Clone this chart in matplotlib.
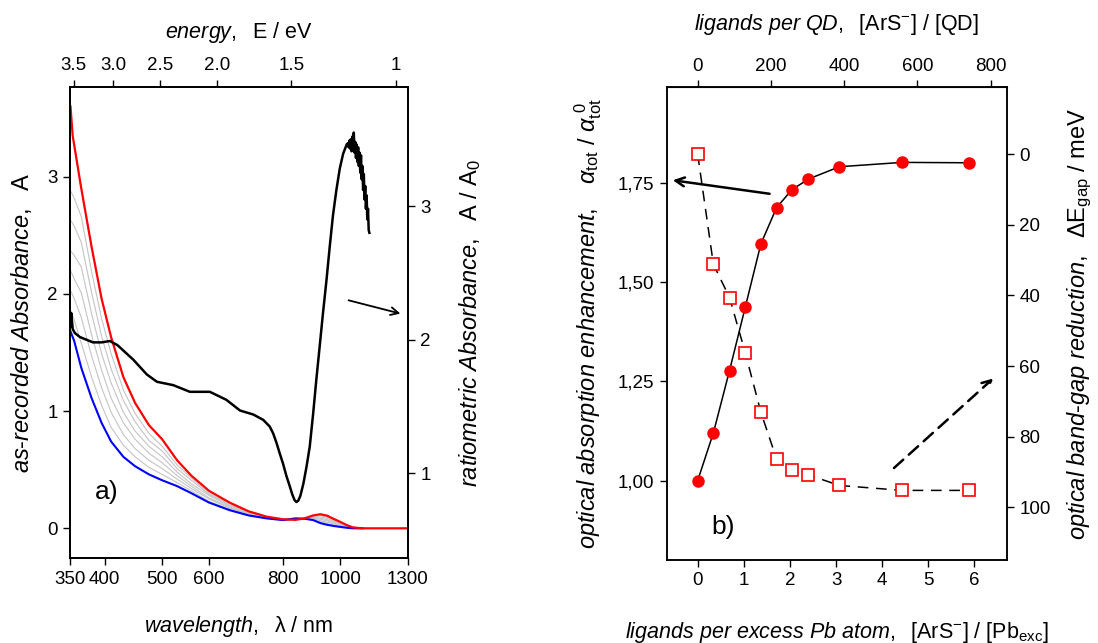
import numpy as np
import matplotlib
matplotlib.use('Agg')
import matplotlib.pyplot as plt
from matplotlib.ticker import FixedLocator, NullLocator, FixedFormatter

plt.rcParams['font.family'] = ['Liberation Sans', 'DejaVu Sans']
plt.rcParams['mathtext.fontset'] = 'custom'
plt.rcParams['mathtext.rm'] = 'Liberation Sans'
plt.rcParams['mathtext.it'] = 'Liberation Sans:italic'
plt.rcParams['mathtext.bf'] = 'Liberation Sans:bold'

# ---------------- panel a data ----------------
wl = [350, 355, 365, 380, 395, 410, 430, 450, 475, 500, 530, 560, 600, 650, 700,
      750, 800, 840, 870, 900, 925, 950, 975, 1000, 1025, 1050, 1090]
blue_A = [1.68, 1.60, 1.37, 1.11, 0.90, 0.74, 0.61, 0.53, 0.46, 0.41, 0.36, 0.30, 0.22, 0.155, 0.11,
          0.085, 0.07, 0.085, 0.082, 0.07, 0.045, 0.03, 0.02, 0.012, 0.005, 0.0, 0.0]
gray1 = [1.86, 1.78, 1.58, 1.29, 1.05, 0.86, 0.71, 0.61, 0.52, 0.46, 0.39, 0.32, 0.23, 0.164, 0.115,
         0.087, 0.071, 0.083, 0.082, 0.076, 0.056, 0.041, 0.028, 0.018, 0.008, 0.001, 0.0]
gray2 = [2.03, 1.96, 1.80, 1.47, 1.20, 0.99, 0.80, 0.68, 0.58, 0.51, 0.42, 0.34, 0.25, 0.173, 0.120,
         0.089, 0.072, 0.081, 0.083, 0.081, 0.066, 0.052, 0.037, 0.024, 0.011, 0.002, 0.0]
gray3 = [2.20, 2.13, 2.01, 1.65, 1.35, 1.11, 0.90, 0.76, 0.64, 0.56, 0.45, 0.36, 0.26, 0.182, 0.125,
         0.091, 0.073, 0.080, 0.083, 0.087, 0.077, 0.063, 0.045, 0.030, 0.015, 0.003, 0.0]
gray4 = [2.37, 2.33, 2.23, 1.83, 1.49, 1.24, 0.99, 0.83, 0.70, 0.61, 0.48, 0.38, 0.28, 0.191, 0.130,
         0.093, 0.074, 0.078, 0.084, 0.092, 0.087, 0.074, 0.054, 0.036, 0.018, 0.004, 0.0]
gray5 = [2.63, 2.58, 2.44, 2.01, 1.64, 1.36, 1.09, 0.91, 0.75, 0.66, 0.51, 0.41, 0.29, 0.201, 0.135,
         0.096, 0.075, 0.076, 0.084, 0.098, 0.098, 0.085, 0.062, 0.042, 0.021, 0.006, 0.0]
gray6 = [2.88, 2.82, 2.66, 2.19, 1.79, 1.49, 1.18, 0.98, 0.81, 0.70, 0.54, 0.43, 0.30, 0.210, 0.139,
         0.098, 0.076, 0.074, 0.085, 0.104, 0.108, 0.096, 0.070, 0.048, 0.024, 0.007, 0.0]

red_wl = [350, 353, 365, 380, 395, 410, 430, 450, 475, 500, 530, 560, 600, 650, 700,
          750, 800, 840, 870, 900, 925, 950, 975, 1000, 1025, 1050, 1090, 1300]
red_A = [3.60, 3.35, 2.90, 2.40, 1.96, 1.63, 1.29, 1.07, 0.88, 0.76, 0.58, 0.45, 0.32, 0.22, 0.145,
         0.10, 0.077, 0.072, 0.085, 0.11, 0.12, 0.108, 0.08, 0.055, 0.028, 0.008, 0.0, 0.0]

black_wl = [350, 351, 353, 356, 363, 382, 395, 408, 420, 447, 471, 490, 522, 557, 602, 642, 677,
            713, 741, 760, 770, 780, 790, 800, 811, 822, 830, 837, 843, 849, 856, 866, 877, 888,
            900, 911, 923, 935, 948, 960, 972, 985, 998, 1011, 1025,
            1030, 1033, 1036, 1039, 1042, 1045, 1048, 1051, 1054, 1057, 1060, 1063, 1066, 1069,
            1072, 1075, 1078, 1081, 1084, 1087, 1090, 1093, 1096, 1099, 1102, 1105, 1108, 1111,
            1114, 1117, 1120]
black_R = [2.10, 2.20, 2.08, 2.05, 2.02, 1.98, 1.98, 1.99, 1.96, 1.85, 1.74, 1.685, 1.66, 1.61, 1.61,
           1.55, 1.47, 1.44, 1.40, 1.35, 1.30, 1.23, 1.15, 1.075, 0.98, 0.90, 0.84, 0.80, 0.785,
           0.795, 0.83, 0.92, 1.05, 1.20, 1.45, 1.70, 1.95, 2.20, 2.45, 2.70, 2.93, 3.12, 3.28,
           3.39, 3.46,
           3.47, 3.44, 3.49, 3.43, 3.50, 3.41, 3.52, 3.42, 3.55, 3.40, 3.48, 3.36, 3.46, 3.33,
           3.44, 3.30, 3.40, 3.25, 3.38, 3.20, 3.30, 3.12, 3.24, 3.05, 3.15, 2.98, 3.08, 2.90,
           2.98, 2.82, 2.80]

wl_ticks = [350, 400, 500, 600, 800, 1000, 1300]
energy_ticks = [3.5, 3.0, 2.5, 2.0, 1.5, 1.0]
energy_labels = ['3.5', '3.0', '2.5', '2.0', '1.5', '1']

# ---------------- panel b data ----------------
ratio_Pb = [0.0, 0.34, 0.69, 1.03, 1.37, 1.71, 2.04, 2.40, 3.07, 4.43, 5.89]
alpha_rel = [1.00, 1.12, 1.277, 1.436, 1.596, 1.687, 1.732, 1.759, 1.79, 1.801, 1.80]
dEgap = [0.1, 31.2, 40.6, 56.2, 73.1, 86.3, 89.4, 90.8, 93.8, 95.2, 95.2]
ligands_per_Pb_to_QD = 126.0
qd_ticks = [0, 200, 400, 600, 800]
alpha_ticks = [1.00, 1.25, 1.50, 1.75]
alpha_labels = ['1,00', '1,25', '1,50', '1,75']
dE_ticks = [0, 20, 40, 60, 80, 100]

TFS = 13.5
LFS = 15.5
YLFS = 17

fig = plt.figure(figsize=(10.98, 6.43), dpi=100)

def style(ax):
    for s in ax.spines.values():
        s.set_linewidth(1.1)
    ax.tick_params(direction='out', length=5, width=1.0, labelsize=TFS, pad=4)

# ---------------- panel a ----------------
axA = fig.add_axes([0.0642, 0.1317, 0.3071, 0.7334])
axA.set_xscale('log')
axA.set_xlim(350, 1300)
axA.set_ylim(-0.256, 3.768)
for g in [gray1, gray2, gray3, gray4, gray5, gray6]:
    axA.plot(wl, g, color='#c4c4c4', lw=0.8)
axA.plot(wl, blue_A, color='#0000ff', lw=1.5)
axA.plot(red_wl, red_A, color='#ff0000', lw=1.6)
axA.xaxis.set_major_locator(FixedLocator(wl_ticks))
axA.xaxis.set_major_formatter(FixedFormatter([str(t) for t in wl_ticks]))
axA.xaxis.set_minor_locator(NullLocator())
axA.set_yticks([0, 1, 2, 3])
style(axA)
axA.set_xlabel(r'$\mathit{wavelength,}$  λ / nm', fontsize=LFS, labelpad=19)
axA.set_ylabel(r'$\mathit{as}$-$\mathit{recorded\ Absorbance,}$  A', fontsize=YLFS, labelpad=10)
axA.text(0.107, 0.141, 'a)', transform=axA.transAxes, fontsize=19, ha='center', va='center')

axA2 = axA.twinx()
axA2.set_ylim(0.364, 3.893)
axA2.plot(black_wl, black_R, color='black', lw=1.8)
axA2.set_yticks([1, 2, 3])
style(axA2)
axA2.set_ylabel(r'$\mathit{ratiometric\ Absorbance,}$  A / A$_0$', fontsize=YLFS, labelpad=19)
axA2.annotate('', xy=(1277, 2.19), xytext=(1022, 2.30),
              arrowprops=dict(arrowstyle='->', lw=1.3, color='black', mutation_scale=14))

axAt = axA.twiny()
axAt.set_xscale('log')
axAt.set_xlim(axA.get_xlim())
axAt.xaxis.set_major_locator(FixedLocator([1240.0 / e for e in energy_ticks]))
axAt.xaxis.set_major_formatter(FixedFormatter(energy_labels))
axAt.xaxis.set_minor_locator(NullLocator())
style(axAt)
axAt.set_xlabel(r'$\mathit{energy,}$  E / eV', fontsize=LFS, labelpad=14)

# ---------------- panel b ----------------
axB = fig.add_axes([0.6072, 0.1291, 0.3097, 0.7351])
axB.set_xlim(-0.672, 6.70)
axB.set_ylim(0.80, 1.99)
axB.plot(ratio_Pb, alpha_rel, color='black', lw=1.1, zorder=2)
axB.plot(ratio_Pb, alpha_rel, 'o', color='#ff0000', ms=8, zorder=3)
axB.set_xticks([0, 1, 2, 3, 4, 5, 6])
axB.set_yticks(alpha_ticks)
axB.set_yticklabels(alpha_labels)
style(axB)
axB.set_xlabel(r'$\mathit{ligands\ per\ excess\ Pb\ atom,}$  [ArS$^{-}$] / [Pb$_{\rm exc}$]',
               fontsize=LFS, labelpad=22)
axB.set_ylabel(r'$\mathit{optical\ absorption\ enhancement,}$   $\mathit{\alpha}_{\rm tot}$ / $\mathit{\alpha}_{\rm tot}^{\ 0}$',
               fontsize=YLFS, labelpad=10)
axB.text(0.166, 0.070, 'b)', transform=axB.transAxes, fontsize=19, ha='center', va='center')
axB.annotate('', xy=(-0.60, 1.757), xytext=(1.618, 1.721),
             arrowprops=dict(arrowstyle='->', lw=1.8, color='black', mutation_scale=16))

axB2 = axB.twinx()
axB2.set_ylim(114.9, -18.9)
axB2.plot(ratio_Pb, dEgap, color='black', lw=1.1, ls=(0, (7, 5)), zorder=2)
axB2.plot(ratio_Pb, dEgap, 's', mfc='white', mec='#ff0000', mew=1.2, ms=8, zorder=3)
axB2.set_yticks(dE_ticks)
style(axB2)
axB2.set_ylabel(r'$\mathit{optical\ band}$-$\mathit{gap\ reduction,}$  $\Delta$E$_{\rm gap}$ / meV',
                fontsize=YLFS, labelpad=11)
axB2.annotate('', xy=(6.45, 63.0), xytext=(4.21, 89.4),
              arrowprops=dict(arrowstyle='->', lw=1.8, ls=(0, (5, 3)), color='black', mutation_scale=16))

axBt = axB.secondary_xaxis('top', functions=(lambda x: x * ligands_per_Pb_to_QD,
                                             lambda x: x / ligands_per_Pb_to_QD))
axBt.set_xticks(qd_ticks)
axBt.tick_params(direction='out', length=5, width=1.0, labelsize=TFS, pad=4)
axBt.set_xlabel(r'$\mathit{ligands\ per\ QD,}$  [ArS$^{-}$] / [QD]', fontsize=LFS, labelpad=20)

fig.savefig('out.png', dpi=100)
